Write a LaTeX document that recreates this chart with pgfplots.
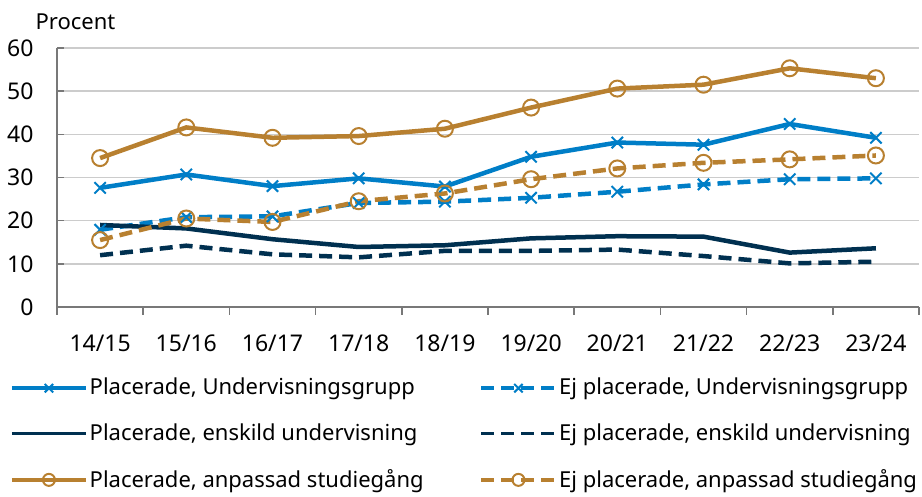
\documentclass[border=0pt]{standalone}
\usepackage{fontspec}
\setmainfont{Noto Sans}
\usepackage{pgfplots}
\pgfplotsset{compat=1.18}
\definecolor{cblue}{RGB}{0,126,199}
\definecolor{cnavy}{RGB}{0,48,80}
\definecolor{cgold}{RGB}{184,128,48}
\definecolor{cgrid}{RGB}{204,204,204}
\definecolor{caxis}{RGB}{120,120,120}
\begin{document}
\fontsize{22}{26}\selectfont
\begin{tikzpicture}
\path[use as bounding box] (0,0) rectangle (922pt,497pt);
\begin{axis}[
  at={(57pt,190pt)}, anchor=south west,
  scale only axis, width=862pt, height=259pt,
  xmin=-0.5, xmax=9.5, ymin=0, ymax=60,
  axis x line*=bottom, axis y line*=left,
  axis line style={-, caxis, line width=1.5pt},
  ytick={0,10,...,60},
  ymajorgrids, major grid style={cgrid, line width=1.5pt},
  xtick={0,...,9},
  xticklabels={14/15,15/16,16/17,17/18,18/19,19/20,20/21,21/22,22/23,23/24},
  minor xtick={-0.5,0.5,...,9.5},
  major x tick style={draw=none},
  minor x tick style={caxis, line width=1.5pt},
  minor tick length=8pt,
  major tick length=7pt,
  ytick style={caxis, line width=1.5pt},
  ytick align=inside, xtick align=outside,
  tick label style={font=\fontsize{23}{27}\selectfont, text=black},
  yticklabel style={xshift=-16pt},
  xticklabel style={yshift=-13pt},
  /pgf/number format/assume math mode=true,
  clip=false,
  legend columns=2,
  legend cell align=left,
  legend style={at={(axis description cs:0,0)}, anchor=north west,
    xshift=-47pt, yshift=-69pt, draw=none, fill=none,
    font=\fontsize{22}{26}\selectfont,
    inner sep=0pt, row sep=21.5pt,
    /tikz/every even column/.append style={column sep=54pt},
    nodes={inner sep=2pt}},
  legend image code/.code={
    \draw[mark repeat=2, mark phase=2, #1, mark size=6pt, line width=3.5pt]
      plot coordinates {(0pt,0pt) (37pt,0pt) (74pt,0pt)};},
]
\node[anchor=west] at ([xshift=-29pt,yshift=26pt]axis description cs:0,1) {Procent};
% 1 Placerade, Undervisningsgrupp
\addplot[cblue, line width=4.5pt, mark=x, mark size=8pt, mark options={line width=2pt, solid}]
  coordinates {(0,27.6) (1,30.7) (2,28.0) (3,29.8) (4,27.9) (5,34.8) (6,38.1) (7,37.6) (8,42.4) (9,39.2)};
\addlegendentry{Placerade, Undervisningsgrupp}
% 2 Ej placerade, Undervisningsgrupp
\addplot[cblue, line width=4.5pt, dash pattern=on 13pt off 7pt, mark=x, mark size=8pt, mark options={line width=2pt, solid}]
  coordinates {(0,17.9) (1,20.8) (2,21.0) (3,24.1) (4,24.4) (5,25.3) (6,26.7) (7,28.4) (8,29.6) (9,29.8)};
\addlegendentry{Ej placerade, Undervisningsgrupp}
% 3 Placerade, enskild undervisning
\addplot[cnavy, line width=4.5pt]
  coordinates {(0,19.0) (1,18.2) (2,15.7) (3,13.9) (4,14.3) (5,15.9) (6,16.4) (7,16.3) (8,12.6) (9,13.6)};
\addlegendentry{Placerade, enskild undervisning}
% 4 Ej placerade, enskild undervisning
\addplot[cnavy, line width=4.5pt, dash pattern=on 13pt off 7pt]
  coordinates {(0,12.0) (1,14.2) (2,12.2) (3,11.5) (4,13.0) (5,13.0) (6,13.3) (7,11.8) (8,10.1) (9,10.5)};
\addlegendentry{Ej placerade, enskild undervisning}
% 5 Placerade, anpassad studiegång
\addplot[cgold, line width=4.5pt, mark=o, mark size=8pt, mark options={line width=2pt, solid}]
  coordinates {(0,34.5) (1,41.6) (2,39.2) (3,39.6) (4,41.3) (5,46.2) (6,50.6) (7,51.5) (8,55.3) (9,53.0)};
\addlegendentry{Placerade, anpassad studiegång}
% 6 Ej placerade, anpassad studiegång
\addplot[cgold, line width=4.5pt, dash pattern=on 13pt off 7pt, mark=o, mark size=8pt, mark options={line width=2pt, solid}]
  coordinates {(0,15.5) (1,20.5) (2,19.7) (3,24.5) (4,26.3) (5,29.6) (6,32.1) (7,33.4) (8,34.2) (9,35.1)};
\addlegendentry{Ej placerade, anpassad studiegång}
\end{axis}
\end{tikzpicture}
\end{document}
